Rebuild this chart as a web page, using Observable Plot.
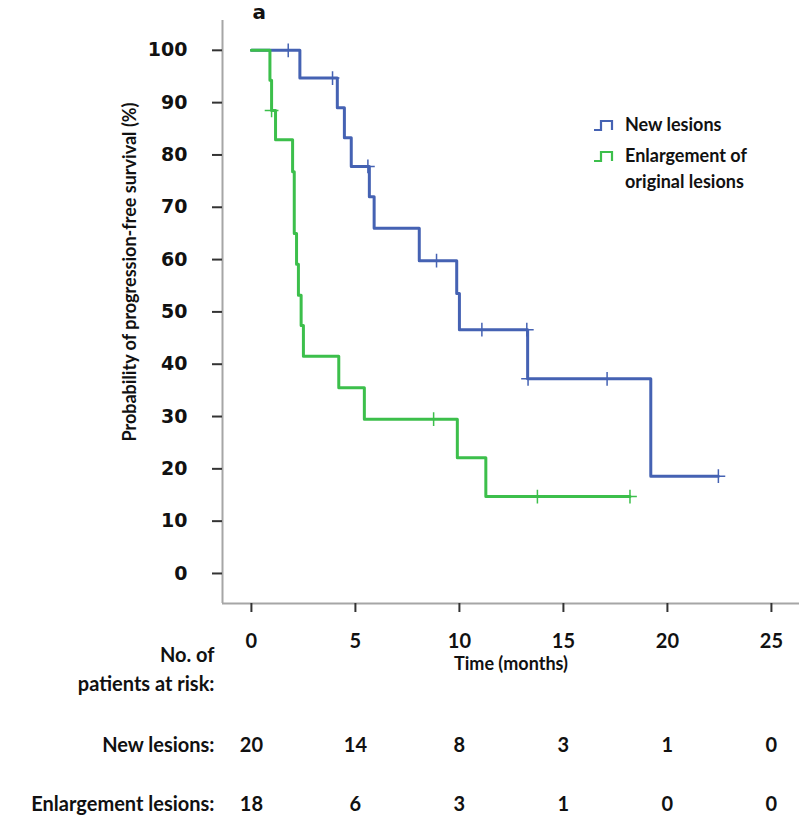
<!DOCTYPE html>
<html>
<head>
<meta charset="utf-8">
<script src="https://cdn.jsdelivr.net/npm/d3@7"></script>
<script src="https://cdn.jsdelivr.net/npm/@observablehq/plot@0.6"></script>
<style>
  body { margin: 0; background: #fff; }
  #wrap { position: relative; width: 799px; height: 825px; }
  svg { overflow: visible; }
  g[aria-label="y-axis tick label"] text { font-family: "DejaVu Sans", sans-serif; font-weight: bold; font-size: 19px; }
  g[aria-label="x-axis tick label"] text { font-family: Lato, sans-serif; font-weight: bold; font-size: 20px; }
  .legend { position: absolute; font-family: Lato, sans-serif; font-weight: bold; font-size: 18px; color: #111; line-height: 29px; }
</style>
</head>
<body>
<div id="wrap"></div>
<script>
// ---- data ----
const timeTicks = [0, 5, 10, 15, 20, 25];
const yTicks = [0, 10, 20, 30, 40, 50, 60, 70, 80, 90, 100];
const riskNew = [20, 14, 8, 3, 1, 0];
const riskEnl = [18, 6, 3, 1, 0, 0];

// New lesions KM steps (months, %)
const newT = [0, 2.33, 4.13, 4.47, 4.8, 5.67, 5.9, 8.07, 9.87, 10.0, 13.28, 19.2, 22.45];
const newS = [100, 94.7, 89.0, 83.3, 77.8, 72.0, 66.0, 59.8, 53.5, 46.6, 37.2, 18.6, 18.6];
const newCensT = [1.77, 3.9, 5.6, 8.9, 11.08, 13.24, 13.3, 17.1, 22.45];
const newCensS = [100, 94.7, 77.8, 59.8, 46.6, 46.6, 37.2, 37.2, 18.6];

// Enlargement of original lesions KM steps
const enlT = [0, 0.89, 0.97, 1.16, 1.98, 2.06, 2.17, 2.26, 2.39, 2.5, 4.2, 5.43, 9.9, 11.27, 18.2];
const enlS = [100, 94.3, 88.5, 82.9, 76.8, 65.0, 59.1, 53.2, 47.4, 41.5, 35.5, 29.5, 22.1, 14.7, 14.7];
const enlCensT = [0.97, 8.76, 13.75, 18.2];
const enlCensS = [88.5, 29.5, 14.7, 14.7];

const seriesNames = ["New lesions", "Enlargement of original lesions"];
const rowLabels = ["New lesions:", "Enlargement lesions:"];

// ---- build ----
const blue = "#4562b3";
const green = "#3cbf4b";
const zip = (t, s) => t.map((v, i) => ({t: v, s: s[i]}));
const newData = zip(newT, newS), enlData = zip(enlT, enlS);
const newCens = zip(newCensT, newCensS), enlCens = zip(enlCensT, enlCensS);
const xDomain = [-1.39, 26.35];
const yDomain = [-5.74, 105.7];
const F = "Lato, sans-serif";
const T = {fontWeight: "bold", fill: "#111"};

const chart = Plot.plot({
  width: 799,
  height: 825,
  marginTop: 20,
  marginBottom: 222,
  marginLeft: 222,
  marginRight: 0,
  x: {domain: xDomain},
  y: {domain: yDomain},
  style: {fontFamily: F, background: "transparent", color: "#111"},
  marks: [
    Plot.ruleX([xDomain[0]], {stroke: "#a6a6a6", strokeWidth: 2}),
    Plot.ruleY([yDomain[0]], {stroke: "#a6a6a6", strokeWidth: 2}),
    Plot.axisY({ticks: yTicks, tickSize: 10, tickPadding: 25, stroke: "#333", strokeWidth: 2, label: null, fill: "#111"}),
    Plot.axisX({ticks: timeTicks, tickSize: 9, tickPadding: 21, stroke: "#333", strokeWidth: 2, label: null, fill: "#111", tickFormat: d => String(d)}),
    Plot.text(["Probability of progression-free survival (%)"], {frameAnchor: "left", textAnchor: "middle", lineAnchor: "middle", rotate: -90, dx: -92, dy: -40, fontSize: 18, ...T}),
    Plot.text(["Time (months)"], {frameAnchor: "bottom", lineAnchor: "middle", dy: 61, fontSize: 18, ...T}),
    Plot.text(["a"], {frameAnchor: "top-left", dx: 30, dy: -16, fontFamily: "DejaVu Sans", fontSize: 20, ...T}),
    Plot.line(newData, {x: "t", y: "s", curve: "step-after", stroke: blue, strokeWidth: 3}),
    Plot.dot(newCens, {x: "t", y: "s", symbol: "plus", r: 4.5, stroke: blue, strokeWidth: 1.5}),
    Plot.line(enlData, {x: "t", y: "s", curve: "step-after", stroke: green, strokeWidth: 3}),
    Plot.dot(enlCens, {x: "t", y: "s", symbol: "plus", r: 4.5, stroke: green, strokeWidth: 1.5}),
    // risk table
    Plot.text(["No. of"], {frameAnchor: "bottom-left", lineAnchor: "middle", dx: -8, dy: 52, textAnchor: "end", fontSize: 20, ...T}),
    Plot.text(["patients at risk:"], {frameAnchor: "bottom-left", lineAnchor: "middle", dx: -8, dy: 81, textAnchor: "end", fontSize: 20, ...T}),
    Plot.text([rowLabels[0]], {frameAnchor: "bottom-left", lineAnchor: "middle", dx: -8, dy: 142, textAnchor: "end", fontSize: 20, ...T}),
    Plot.text([rowLabels[1]], {frameAnchor: "bottom-left", lineAnchor: "middle", dx: -8, dy: 201, textAnchor: "end", fontSize: 20, ...T}),
    Plot.text(timeTicks, {x: d => d, text: (d, i) => String(riskNew[i]), frameAnchor: "bottom", lineAnchor: "middle", dy: 142, fontSize: 20, ...T}),
    Plot.text(timeTicks, {x: d => d, text: (d, i) => String(riskEnl[i]), frameAnchor: "bottom", lineAnchor: "middle", dy: 201, fontSize: 20, ...T})
  ]
});

const wrap = document.getElementById("wrap");
wrap.appendChild(chart);

// legend
const legend = document.createElement("div");
legend.className = "legend";
legend.style.left = "594px";
legend.style.top = "110px";
const icon = (c) => `<svg width="20" height="14" style="vertical-align:-1px;margin-right:11px;overflow:visible"><path d="M0,12H7V3H18V12" fill="none" stroke="${c}" stroke-width="2.2"/></svg>`;
legend.innerHTML =
  `<div>${icon(blue)}${seriesNames[0]}</div>` +
  `<div style="margin-top:2px">${icon(green)}Enlargement of</div>` +
  `<div style="padding-left:31px;margin-top:-3px">original lesions</div>`;
wrap.appendChild(legend);
</script>
</body>
</html>
